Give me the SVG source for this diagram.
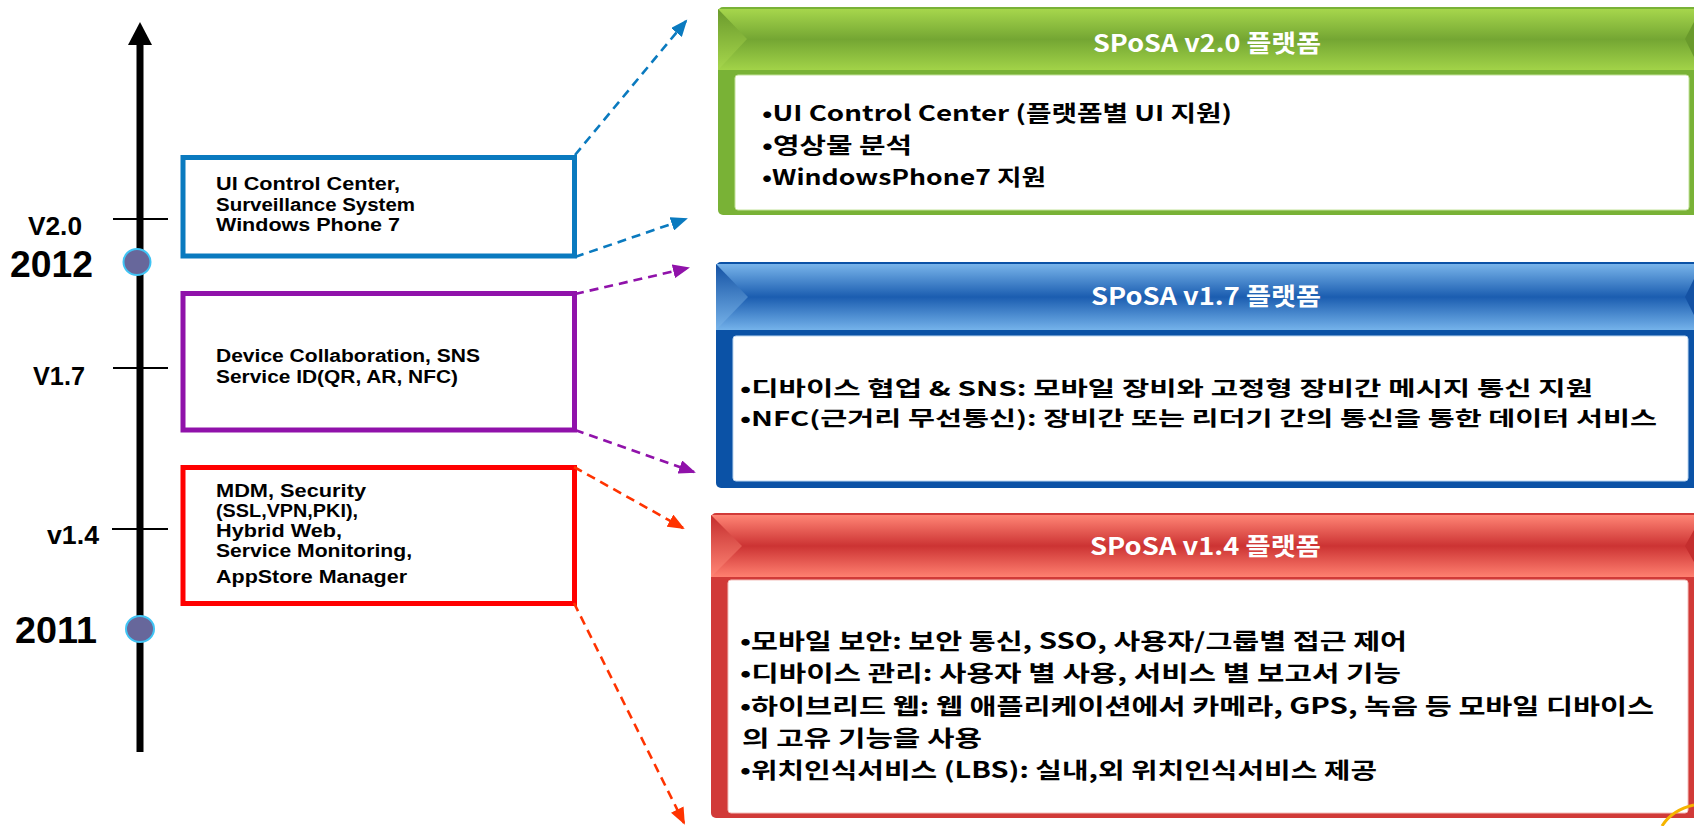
<svg xmlns="http://www.w3.org/2000/svg" width="1694" height="826" viewBox="0 0 1694 826">
<style>
.t{font-family:'Noto Sans CJK KR','Noto Sans',sans-serif;font-weight:700;fill:#000}
.lat{font-family:'Liberation Sans','Noto Sans',sans-serif}
.yr{font-size:36px}
.ver{font-size:25px}
.bx{font-size:18px}
.bodyg{font-size:21.5px}
.bodyb{font-size:20.5px}
.bodyr{font-size:22px}
.hdr{font-size:24px;fill:#fff}
.tick{stroke:#000;stroke-width:2}
.dot{fill:#67679b;stroke:#40c4f4;stroke-width:2}
.lb{fill:none;stroke-width:5}
.con{fill:none;stroke-width:2.6;stroke-dasharray:9 6}
.inner{fill:#fff}
</style>
<defs>
<linearGradient id="gG" x1="0" y1="0" x2="0" y2="1">
<stop offset="0" stop-color="#a6d64c"/><stop offset="0.5" stop-color="#74a633"/><stop offset="1" stop-color="#a2d348"/>
</linearGradient>
<linearGradient id="gGs" x1="0" y1="0" x2="0" y2="1">
<stop offset="0" stop-color="#6a9a2c"/><stop offset="1" stop-color="#a6d64c"/>
</linearGradient>
<linearGradient id="gB" x1="0" y1="0" x2="0" y2="1">
<stop offset="0" stop-color="#78b4ea"/><stop offset="0.5" stop-color="#1b5db0"/><stop offset="1" stop-color="#74b2ea"/>
</linearGradient>
<linearGradient id="gBs" x1="0" y1="0" x2="0" y2="1">
<stop offset="0" stop-color="#1452a4"/><stop offset="1" stop-color="#78b4ea"/>
</linearGradient>
<linearGradient id="gR" x1="0" y1="0" x2="0" y2="1">
<stop offset="0" stop-color="#ff8575"/><stop offset="0.5" stop-color="#cc3333"/><stop offset="1" stop-color="#ff8070"/>
</linearGradient>
<linearGradient id="gRs" x1="0" y1="0" x2="0" y2="1">
<stop offset="0" stop-color="#c42e2e"/><stop offset="1" stop-color="#ff8575"/>
</linearGradient>
<marker id="mB" markerUnits="userSpaceOnUse" markerWidth="18" markerHeight="14" refX="15" refY="7" orient="auto"><path d="M0,0 L17,7 L0,14 z" fill="#0a7abf"/></marker>
<marker id="mP" markerUnits="userSpaceOnUse" markerWidth="18" markerHeight="14" refX="15" refY="7" orient="auto"><path d="M0,0 L17,7 L0,14 z" fill="#9012aa"/></marker>
<marker id="mR" markerUnits="userSpaceOnUse" markerWidth="18" markerHeight="14" refX="15" refY="7" orient="auto"><path d="M0,0 L17,7 L0,14 z" fill="#ff3300"/></marker>
</defs>
<rect width="1694" height="826" fill="#fff"/>

<g id="timeline">
<line x1="140" y1="40" x2="140" y2="752" stroke="#000" stroke-width="7"/>
<polygon points="140,22 128,45 152,45" fill="#000"/>
<line class="tick" x1="113" y1="219" x2="168" y2="219"/>
<line class="tick" x1="113" y1="368" x2="168" y2="368"/>
<line class="tick" x1="112" y1="529" x2="168" y2="529"/>
<ellipse class="dot" cx="137" cy="262" rx="13.5" ry="13"/>
<ellipse class="dot" cx="140" cy="629" rx="14" ry="13"/>
<text class="t lat ver" x="28" y="235" textLength="54" lengthAdjust="spacingAndGlyphs">V2.0</text>
<text class="t lat yr" x="10" y="277" textLength="83" lengthAdjust="spacingAndGlyphs">2012</text>
<text class="t lat ver" x="33" y="385" textLength="52" lengthAdjust="spacingAndGlyphs">V1.7</text>
<text class="t lat ver" x="47" y="544" textLength="52" lengthAdjust="spacingAndGlyphs">v1.4</text>
<text class="t lat yr" x="15" y="643" textLength="82" lengthAdjust="spacingAndGlyphs">2011</text>
</g>

<g id="box-v20">
<rect class="lb" x="183" y="157.5" width="391.5" height="98.5" stroke="#0a7abf"/>
<text class="t lat bx" x="216" y="190" textLength="184" lengthAdjust="spacingAndGlyphs">UI Control Center,</text>
<text class="t lat bx" x="216" y="211" textLength="199" lengthAdjust="spacingAndGlyphs">Surveillance System</text>
<text class="t lat bx" x="216" y="231" textLength="184" lengthAdjust="spacingAndGlyphs">Windows Phone 7</text>
</g>

<g id="box-v17">
<rect class="lb" x="183" y="293.5" width="391.5" height="136.5" stroke="#9012aa"/>
<text class="t lat bx" x="216" y="362" textLength="264" lengthAdjust="spacingAndGlyphs">Device Collaboration, SNS</text>
<text class="t lat bx" x="216" y="383" textLength="242" lengthAdjust="spacingAndGlyphs">Service ID(QR, AR, NFC)</text>
</g>

<g id="box-v14">
<rect class="lb" x="183" y="467.5" width="391.5" height="136" stroke="#ff0000"/>
<text class="t lat bx" x="216" y="497" textLength="150" lengthAdjust="spacingAndGlyphs">MDM, Security</text>
<text class="t lat bx" x="216" y="517" textLength="142" lengthAdjust="spacingAndGlyphs">(SSL,VPN,PKI),</text>
<text class="t lat bx" x="216" y="537" textLength="126" lengthAdjust="spacingAndGlyphs">Hybrid Web,</text>
<text class="t lat bx" x="216" y="557" textLength="196" lengthAdjust="spacingAndGlyphs">Service Monitoring,</text>
<text class="t lat bx" x="216" y="583" textLength="191" lengthAdjust="spacingAndGlyphs">AppStore Manager</text>
</g>

<g id="panel-v20">
<rect x="718" y="7" width="990" height="208" rx="5" fill="#79b236"/>
<rect x="718" y="9" width="990" height="61" fill="url(#gG)"/>
<polygon points="718,9 747,39 718,70" fill="url(#gGs)"/>
<polygon points="1694,22 1685,39 1694,57" fill="#6a9a2c"/>
<rect class="inner" x="735" y="75" width="954" height="135" rx="3" stroke="#c3e29a" stroke-width="1"/>
<text class="t hdr" x="1093" y="52" textLength="228" lengthAdjust="spacingAndGlyphs">SPoSA v2.0 플랫폼</text>
<text class="t bodyg" x="762" y="121" textLength="470" lengthAdjust="spacingAndGlyphs">•UI Control Center (플랫폼별 UI 지원)</text>
<text class="t bodyg" x="762" y="153" textLength="150" lengthAdjust="spacingAndGlyphs">•영상물 분석</text>
<text class="t bodyg" x="762" y="185" textLength="284" lengthAdjust="spacingAndGlyphs">•WindowsPhone7 지원</text>
</g>

<g id="panel-v17">
<rect x="716" y="262" width="990" height="226" rx="5" fill="#0b52a6"/>
<rect x="716" y="264" width="990" height="66" fill="url(#gB)"/>
<polygon points="716,264 748,297 716,330" fill="url(#gBs)"/>
<polygon points="1694,279 1685,297 1694,315" fill="#1452a4"/>
<rect class="inner" x="733" y="336" width="955" height="145" rx="3" stroke="#bcd6f0" stroke-width="1"/>
<text class="t hdr" x="1091" y="305" textLength="230" lengthAdjust="spacingAndGlyphs">SPoSA v1.7 플랫폼</text>
<text class="t bodyb" x="740" y="396" textLength="853" lengthAdjust="spacingAndGlyphs">•디바이스 협업 &amp; SNS: 모바일 장비와 고정형 장비간 메시지 통신 지원</text>
<text class="t bodyb" x="740" y="426" textLength="917" lengthAdjust="spacingAndGlyphs">•NFC(근거리 무선통신): 장비간 또는 리더기 간의 통신을 통한 데이터 서비스</text>
</g>

<g id="panel-v14">
<rect x="711" y="513" width="995" height="305" rx="5" fill="#d13a38"/>
<rect x="711" y="515" width="995" height="62" fill="url(#gR)"/>
<polygon points="711,515 742,546 711,577" fill="url(#gRs)"/>
<polygon points="1694,530 1685,546 1694,562" fill="#c42e2e"/>
<rect class="inner" x="728" y="580" width="960" height="233" rx="3" stroke="#f3c0bc" stroke-width="1"/>
<text class="t hdr" x="1090" y="555" textLength="231" lengthAdjust="spacingAndGlyphs">SPoSA v1.4 플랫폼</text>
<text class="t bodyr" x="740" y="649" textLength="667" lengthAdjust="spacingAndGlyphs">•모바일 보안: 보안 통신, SSO, 사용자/그룹별 접근 제어</text>
<text class="t bodyr" x="740" y="681" textLength="661" lengthAdjust="spacingAndGlyphs">•디바이스 관리: 사용자 별 사용, 서비스 별 보고서 기능</text>
<text class="t bodyr" x="740" y="714" textLength="914" lengthAdjust="spacingAndGlyphs">•하이브리드 웹: 웹 애플리케이션에서 카메라, GPS, 녹음 등 모바일 디바이스</text>
<text class="t bodyr" x="742" y="746" textLength="240" lengthAdjust="spacingAndGlyphs">의 고유 기능을 사용</text>
<text class="t bodyr" x="740" y="778" textLength="637" lengthAdjust="spacingAndGlyphs">•위치인식서비스 (LBS): 실내,외 위치인식서비스 제공</text>
</g>

<g id="connectors">
<line class="con" x1="575" y1="155" x2="686" y2="21" stroke="#0a7abf" marker-end="url(#mB)"/>
<line class="con" x1="575" y1="257" x2="686" y2="219" stroke="#0a7abf" marker-end="url(#mB)"/>
<line class="con" x1="575" y1="294" x2="688" y2="268" stroke="#9012aa" marker-end="url(#mP)"/>
<line class="con" x1="575" y1="430" x2="694" y2="472" stroke="#9012aa" marker-end="url(#mP)"/>
<line class="con" x1="574" y1="467" x2="683" y2="528" stroke="#ff3300" marker-end="url(#mR)"/>
<line class="con" x1="574" y1="603" x2="684" y2="823" stroke="#ff3300" marker-end="url(#mR)"/>
</g>

<path d="M1662,826 Q1672,810 1694,805" fill="none" stroke="#f5b400" stroke-width="3"/>
</svg>
